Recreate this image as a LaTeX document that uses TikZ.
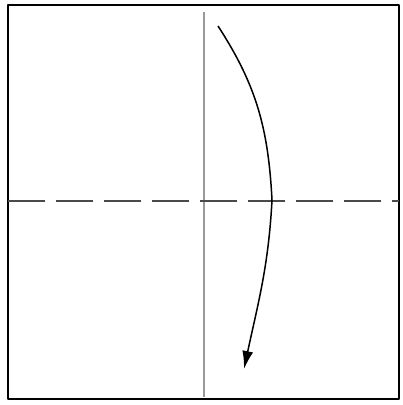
\documentclass[tikz,border=0pt]{standalone}
\usetikzlibrary{arrows.meta}
\usepackage{xcolor}
\definecolor{creasegray}{HTML}{9A9A9A}
\definecolor{foldgray}{HTML}{4A4A4A}

\begin{document}
\begin{tikzpicture}[
    x=1pt, y=1pt,
    >={Latex[length=18pt, width=11pt]},
    paper/.style={draw, line width=2.6pt, line join=round},
    crease/.style={draw=creasegray, line width=1.1pt},
    valley/.style={draw=foldgray, line width=1.4pt,
        dash pattern=on 37pt off 11pt},
    foldarrow/.style={->, line width=1.5pt}
]
\useasboundingbox (0,0) rectangle (403,405);

% Corners of the sheet
\coordinate (sw) at (8,6);
\coordinate (ne) at (399,400);

% Sheet outline
\draw[paper] (sw) rectangle (ne);

% Existing crease (vertical)
\coordinate (ctop) at (204,393);
\coordinate (cbot) at (204,8);
\draw[crease] (ctop) -- (cbot);

% Valley fold line (horizontal)
\coordinate (vl) at (8,204);
\coordinate (vr) at (399,204);
\draw[valley] (vl) -- (vr);

% Fold top edge down to the bottom
\coordinate (astart) at (218,379);
\coordinate (amid) at (272,205);
\coordinate (aend) at (244,36);
\draw[foldarrow] (astart) to[out=-57, in=93] (amid)
    to[out=-93, in=78] (aend);

\end{tikzpicture}
\end{document}
